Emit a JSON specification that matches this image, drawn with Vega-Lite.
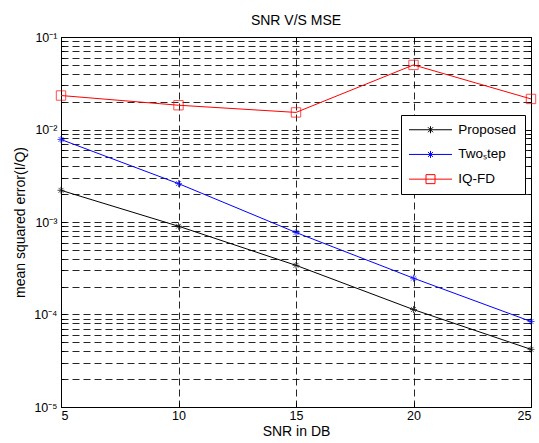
{
  "$schema": "https://vega.github.io/schema/vega-lite/v6.json",
  "width": 470,
  "height": 370,
  "autosize": {"type": "none"},
  "padding": {"top": 37, "left": 61, "right": 8, "bottom": 36},
  "background": "white",
  "config": {
    "font": "Liberation Sans",
    "view": {"stroke": "black", "strokeWidth": 1},
    "axis": {
      "labelFont": "Liberation Sans",
      "titleFont": "Liberation Sans",
      "labelColor": "black",
      "titleColor": "black",
      "titleFontWeight": "normal",
      "domainColor": "black",
      "tickColor": "black",
      "gridColor": "black",
      "gridOpacity": 0.85,
      "gridDash": [7, 4],
      "labelFontSize": 12.5,
      "titleFontSize": 14
    }
  },
  "title": {
    "text": "SNR V/S MSE",
    "fontSize": 14,
    "fontWeight": "normal",
    "font": "Liberation Sans",
    "color": "black",
    "anchor": "middle",
    "baseline": "alphabetic",
    "offset": -8
  },
  "data": {
    "values": [
      {"snr": 5, "mse": 0.0022, "series": "Proposed"},
      {"snr": 10, "mse": 0.0009, "series": "Proposed"},
      {"snr": 15, "mse": 0.00034, "series": "Proposed"},
      {"snr": 20, "mse": 0.000113, "series": "Proposed"},
      {"snr": 25, "mse": 0.000042, "series": "Proposed"},
      {"snr": 5, "mse": 0.0078, "series": "Two_Step"},
      {"snr": 10, "mse": 0.0026, "series": "Two_Step"},
      {"snr": 15, "mse": 0.00077, "series": "Two_Step"},
      {"snr": 20, "mse": 0.000247, "series": "Two_Step"},
      {"snr": 25, "mse": 0.000084, "series": "Two_Step"},
      {"snr": 5, "mse": 0.0233, "series": "IQ-FD"},
      {"snr": 10, "mse": 0.0183, "series": "IQ-FD"},
      {"snr": 15, "mse": 0.0153, "series": "IQ-FD"},
      {"snr": 20, "mse": 0.0499, "series": "IQ-FD"},
      {"snr": 25, "mse": 0.0214, "series": "IQ-FD"}
    ]
  },
  "resolve": {"scale": {"x": "independent", "y": "independent"}},
  "layer": [
    {
      "layer": [
        {
          "mark": {"type": "line", "strokeWidth": 1, "clip": true},
          "encoding": {
            "x": {
              "field": "snr", "type": "quantitative",
              "scale": {"domain": [5, 25], "nice": false, "zero": false},
              "axis": {
                "title": "SNR in DB",
                "values": [5, 10, 15, 20, 25],
                "grid": true,
                "tickSize": -5,
                "labelPadding": 7,
                "titlePadding": 3
              }
            },
            "y": {
              "field": "mse", "type": "quantitative",
              "scale": {"type": "log", "domain": [0.00001, 0.1], "nice": false},
              "axis": {
                "title": "mean squared error(I/Q)",
                "values": [0.00001, 0.00002, 0.00003, 0.00004, 0.00005, 0.00006, 0.00007, 0.00008, 0.00009,
                           0.0001, 0.0002, 0.0003, 0.0004, 0.0005, 0.0006, 0.0007, 0.0008, 0.0009,
                           0.001, 0.002, 0.003, 0.004, 0.005, 0.006, 0.007, 0.008, 0.009,
                           0.01, 0.02, 0.03, 0.04, 0.05, 0.06, 0.07, 0.08, 0.09, 0.1],
                "grid": true,
                "labelExpr": "abs(log(datum.value)/LN10 - round(log(datum.value)/LN10)) < 0.001 ? '10' + ['⁰','⁻¹','⁻²','⁻³','⁻⁴','⁻⁵'][-round(log(datum.value)/LN10)] : ''",
                "tickSize": {"condition": {"test": "abs(log(datum.value)/LN10 - round(log(datum.value)/LN10)) < 0.001", "value": -5}, "value": -3},
                "labelPadding": 9,
                "titlePadding": 6
              }
            },
            "color": {
              "field": "series", "type": "nominal",
              "scale": {"domain": ["Proposed", "Two_Step", "IQ-FD"], "range": ["#000000", "#0000ff", "#ff0000"]},
              "legend": {
                "title": null,
                "orient": "none",
                "legendX": 340,
                "legendY": 78,
                "strokeColor": "black",
                "fillColor": "white",
                "padding": 8,
                "cornerRadius": 0,
                "labelFont": "Liberation Sans",
                "labelFontSize": 13.5,
                "labelColor": "black",
                "labelExpr": "datum.label == 'Two_Step' ? 'Twoₛtep' : datum.label",
                "symbolSize": 100,
                "symbolStrokeWidth": 1,
                "symbolOffset": 14.75,
                "labelOffset": 21,
                "rowPadding": 9.7,
                "encode": {
                  "symbols": {
                    "update": {
                      "shape": {"signal": "datum.value === 'IQ-FD' ? 'M-4.3,0H4.3M-0.9,-0.9H0.9V0.9H-0.9Z' : 'M-4.3,0H4.3M0,-0.7V0.7M-0.5,-0.5L0.5,0.5M-0.5,0.5L0.5,-0.5'"},
                      "fill": {"value": "transparent"}
                    }
                  }
                }
              }
            }
          }
        },
        {
          "transform": [{"filter": "datum.series !== 'IQ-FD'"}],
          "mark": {"type": "point", "filled": false, "strokeWidth": 1, "size": 49, "shape": "M-1,0H1M0,-1V1M-0.7,-0.7L0.7,0.7M-0.7,0.7L0.7,-0.7"},
          "encoding": {
            "x": {"field": "snr", "type": "quantitative"},
            "y": {"field": "mse", "type": "quantitative"},
            "color": {"field": "series", "type": "nominal"}
          }
        },
        {
          "transform": [{"filter": "datum.series === 'IQ-FD'"}],
          "mark": {"type": "point", "filled": false, "strokeWidth": 1, "size": 88, "shape": "M-1,-1H1V1H-1Z"},
          "encoding": {
            "x": {"field": "snr", "type": "quantitative"},
            "y": {"field": "mse", "type": "quantitative"},
            "color": {"field": "series", "type": "nominal"}
          }
        }
      ]
    },
    {
      "mark": {"type": "point", "opacity": 0},
      "encoding": {
        "x": {
          "field": "snr", "type": "quantitative",
          "scale": {"domain": [5, 25], "nice": false, "zero": false},
          "axis": {
            "orient": "top",
            "title": null,
            "labels": false,
            "grid": false,
            "domain": false,
            "values": [5, 10, 15, 20, 25],
            "tickSize": -5
          }
        },
        "y": {
          "field": "mse", "type": "quantitative",
          "scale": {"type": "log", "domain": [0.00001, 0.1], "nice": false},
          "axis": {
            "orient": "right",
            "title": null,
            "labels": false,
            "grid": false,
            "domain": false,
            "values": [0.00001, 0.00002, 0.00003, 0.00004, 0.00005, 0.00006, 0.00007, 0.00008, 0.00009,
                       0.0001, 0.0002, 0.0003, 0.0004, 0.0005, 0.0006, 0.0007, 0.0008, 0.0009,
                       0.001, 0.002, 0.003, 0.004, 0.005, 0.006, 0.007, 0.008, 0.009,
                       0.01, 0.02, 0.03, 0.04, 0.05, 0.06, 0.07, 0.08, 0.09, 0.1],
            "tickSize": {"condition": {"test": "abs(log(datum.value)/LN10 - round(log(datum.value)/LN10)) < 0.001", "value": -5}, "value": -3}
          }
        }
      }
    }
  ]
}
